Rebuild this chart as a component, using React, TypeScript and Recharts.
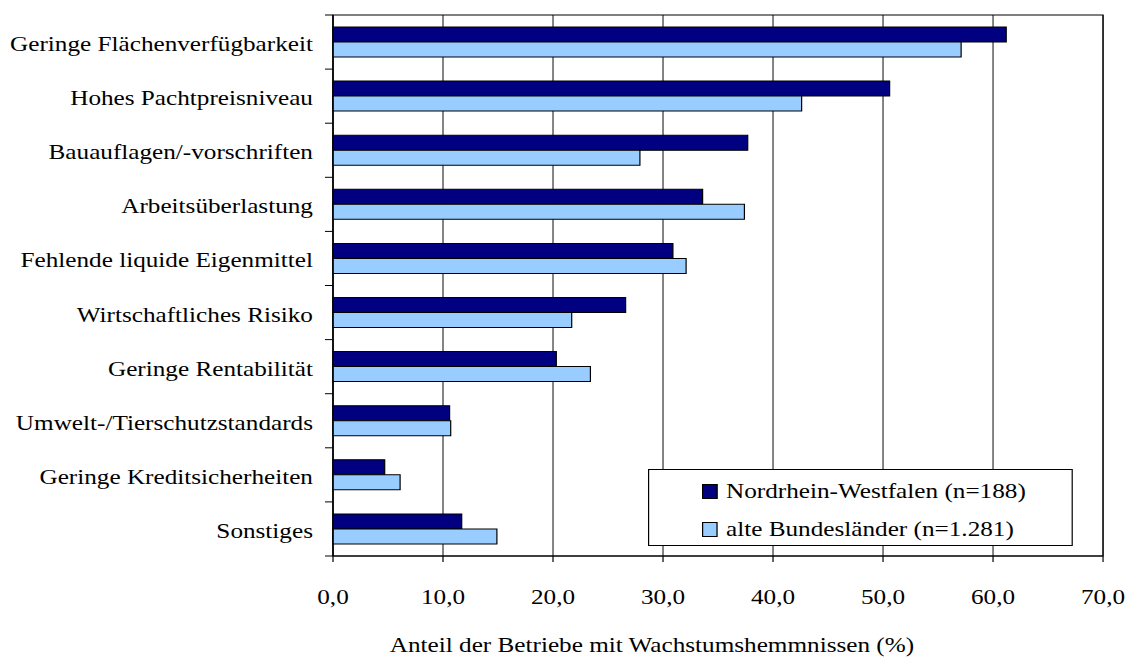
import React from "react";
import {
  BarChart,
  Bar,
  XAxis,
  YAxis,
  CartesianGrid,
  Legend,
  ReferenceArea,
} from "recharts";

// Growth obstacles of farms: share of farms naming each obstacle (%)
const categories = [
  "Geringe Flächenverfügbarkeit",
  "Hohes Pachtpreisniveau",
  "Bauauflagen/-vorschriften",
  "Arbeitsüberlastung",
  "Fehlende liquide Eigenmittel",
  "Wirtschaftliches Risiko",
  "Geringe Rentabilität",
  "Umwelt-/Tierschutzstandards",
  "Geringe Kreditsicherheiten",
  "Sonstiges",
];

const nrwValues = [61.2, 50.6, 37.7, 33.6, 30.9, 26.6, 20.3, 10.6, 4.7, 11.7];
const altValues = [57.1, 42.6, 27.9, 37.4, 32.1, 21.7, 23.4, 10.7, 6.1, 14.9];

const xTicks = [0, 10, 20, 30, 40, 50, 60, 70];

const seriesNames = {
  nrw: "Nordrhein-Westfalen (n=188)",
  alt: "alte Bundesländer (n=1.281)",
};

const axisTitle = "Anteil der Betriebe mit Wachstumshemmnissen (%)";

const data = categories.map((name, i) => ({
  name,
  nrw: nrwValues[i],
  alt: altValues[i],
}));

// The drawing is laid out in a narrower box and widened horizontally,
// which gives the wide serif lettering of the original document.
const STRETCH = 1.2;
const WIDTH = 940;
const HEIGHT = 658;

const FONT = "'Liberation Serif', 'Times New Roman', serif";
const FONT_SIZE = 21;

const NAVY = "#000080";
const SKY = "#99CCFF";

const Y_AXIS_WIDTH = 277.5;
const Y_LABEL_GAP = 16.7;
const Y_TICK_LEN = 6.7;

// horizontal centre and baseline offset of the value-axis title
const TITLE_CENTER_X = 543.3;
const TITLE_BASELINE = 96.5;

const fmt = (v: number) => v.toFixed(1).replace(".", ",");

function CategoryTick(props: any) {
  const { x, y, payload, index, visibleTicksCount } = props;
  const half =
    typeof payload?.offset === "number" && payload.offset > 0
      ? payload.offset
      : (HEIGHT - 15 - 102) / categories.length / 2;
  const axisX = x + Y_LABEL_GAP;
  const isLast =
    index === (visibleTicksCount ? visibleTicksCount - 1 : categories.length - 1);
  return (
    <g>
      <text
        x={x}
        y={y}
        dy={9}
        textAnchor="end"
        fill="#000"
        fontFamily={FONT}
        fontSize={FONT_SIZE}
      >
        {payload.value}
      </text>
      <line
        x1={axisX - Y_TICK_LEN}
        x2={axisX}
        y1={y - half}
        y2={y - half}
        stroke="#000"
        strokeWidth={1}
      />
      {isLast && (
        <line
          x1={axisX - Y_TICK_LEN}
          x2={axisX}
          y1={y + half}
          y2={y + half}
          stroke="#000"
          strokeWidth={1}
        />
      )}
    </g>
  );
}

function AxisTitle(props: any) {
  const vb = props.viewBox || {};
  return (
    <text
      x={TITLE_CENTER_X}
      y={vb.y + TITLE_BASELINE}
      textAnchor="middle"
      fill="#000"
      fontFamily={FONT}
      fontSize={FONT_SIZE}
    >
      {axisTitle}
    </text>
  );
}

function LegendBox(props: any) {
  const payload = props.payload || [];
  const rowCenters = [21.5, 59.5];
  return (
    <div
      style={{
        position: "relative",
        width: 354,
        height: 77,
        boxSizing: "border-box",
        border: "1px solid #000",
        background: "#fff",
        fontFamily: FONT,
        fontSize: FONT_SIZE,
        color: "#000",
      }}
    >
      {payload.map((entry: any, i: number) => (
        <React.Fragment key={entry.value}>
          <div
            style={{
              position: "absolute",
              left: 44,
              top: rowCenters[i] - 7.5,
              width: 12.5,
              height: 15,
              boxSizing: "border-box",
              border: "1px solid #000",
              background: entry.color,
            }}
          />
          <div
            style={{
              position: "absolute",
              left: 64,
              top: rowCenters[i] - 10.6,
              lineHeight: "21px",
              whiteSpace: "nowrap",
            }}
          >
            {entry.value}
          </div>
        </React.Fragment>
      ))}
    </div>
  );
}

export default function App() {
  return (
    <div
      style={{
        position: "absolute",
        left: 0,
        top: 0,
        width: WIDTH,
        height: HEIGHT,
        background: "#fff",
        transform: `scaleX(${STRETCH})`,
        transformOrigin: "0 0",
      }}
    >
      <BarChart
        width={WIDTH}
        height={HEIGHT}
        data={data}
        layout="vertical"
        margin={{ top: 15, right: 20.8, bottom: 0, left: 0 }}
        barCategoryGap={0}
        barGap={0}
      >
        <CartesianGrid
          horizontal={false}
          vertical={true}
          stroke="#333"
          strokeWidth={1}
        />
        <ReferenceArea
          x1={0}
          x2={70}
          fill="none"
          fillOpacity={0}
          stroke="#000"
          strokeWidth={1}
          ifOverflow="visible"
        />
        <XAxis
          type="number"
          domain={[0, 70]}
          ticks={xTicks}
          interval={0}
          tickFormatter={fmt}
          height={102}
          axisLine={{ stroke: "#000" }}
          tickLine={{ stroke: "#000" }}
          tickSize={6}
          tickMargin={27}
          tick={{ fill: "#000", fontFamily: FONT, fontSize: FONT_SIZE }}
          label={<AxisTitle />}
        />
        <YAxis
          type="category"
          dataKey="name"
          width={Y_AXIS_WIDTH}
          interval={0}
          axisLine={{ stroke: "#000" }}
          tickLine={false}
          tickSize={0}
          tickMargin={Y_LABEL_GAP}
          tick={<CategoryTick />}
        />
        <Legend
          layout="vertical"
          align="center"
          verticalAlign="middle"
          content={<LegendBox />}
          wrapperStyle={{ left: 540, top: 469, width: 354, height: 77 }}
        />
        <Bar
          dataKey="nrw"
          name={seriesNames.nrw}
          fill={NAVY}
          stroke="#000"
          strokeWidth={1}
          barSize={15}
          isAnimationActive={false}
        />
        <Bar
          dataKey="alt"
          name={seriesNames.alt}
          fill={SKY}
          stroke="#000"
          strokeWidth={1}
          barSize={15}
          isAnimationActive={false}
        />
      </BarChart>
    </div>
  );
}
